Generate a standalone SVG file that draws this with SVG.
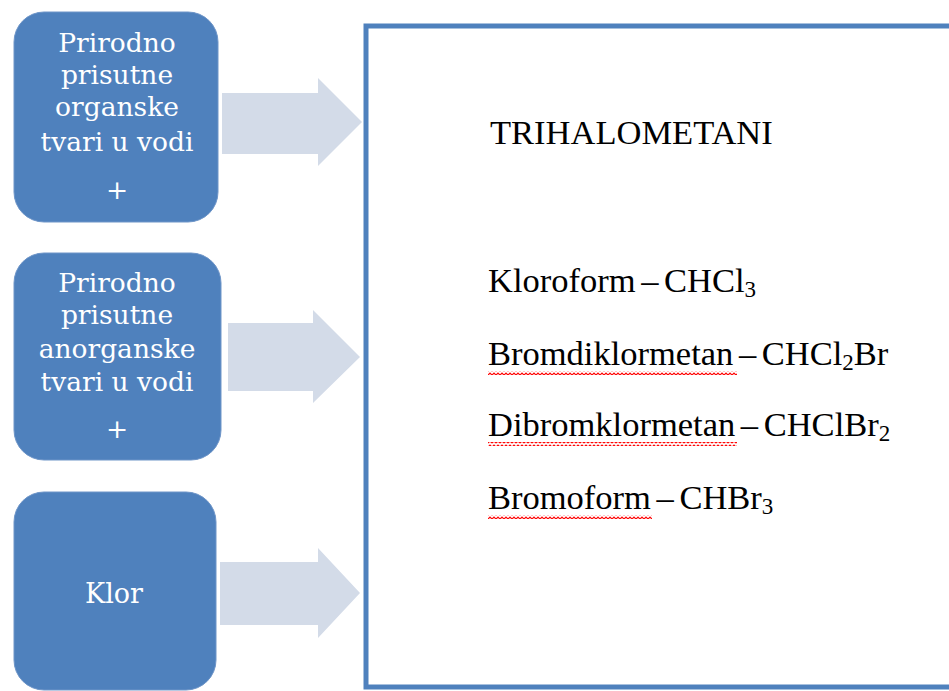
<svg xmlns="http://www.w3.org/2000/svg" width="949" height="691" viewBox="0 0 949 691">
<style>
.box{fill:#4F81BD;stroke:#6E95C8;stroke-width:1}
.bt{font-family:"DejaVu Serif","Liberation Serif",serif;font-size:26.5px;fill:#FFFFFF;text-anchor:middle}
.arr{fill:#D3DBE8}
.rt{font-family:"Liberation Serif","Times New Roman",serif;font-size:34.5px;fill:#000000;word-spacing:-3px}
.sub{font-size:23px}
</style>
<defs>
<pattern id="sq" x="0" y="0" width="4" height="4" patternUnits="userSpaceOnUse">
<path d="M0,3 L2,1 L4,3" fill="none" stroke="#FF0000" stroke-width="1.2"/>
</pattern>
</defs>
<rect x="0" y="0" width="949" height="691" fill="#FFFFFF"/>
<g id="connectors">
<path class="arr" d="M222,93 H318 V78 L362,122 L318,166 V154 H222 Z"/>
<path class="arr" d="M228,323 H313 V310 L360,357 L313,403 V391 H228 Z"/>
<path class="arr" d="M220,562 H318 V548 L360,593 L318,638 V625 H220 Z"/>
</g>
<g id="node1">
<rect class="box" x="14" y="12" width="204" height="210" rx="30" ry="30"/>
<text class="bt" x="117" y="52">Prirodno</text>
<text class="bt" x="117" y="84">prisutne</text>
<text class="bt" x="117" y="116">organske</text>
<text class="bt" x="117" y="151">tvari u vodi</text>
<text class="bt" x="117" y="199">+</text>
</g>
<g id="node2">
<rect class="box" x="14" y="253" width="207" height="207" rx="30" ry="30"/>
<text class="bt" x="117" y="292">Prirodno</text>
<text class="bt" x="117" y="324">prisutne</text>
<text class="bt" x="117" y="358">anorganske</text>
<text class="bt" x="117" y="391">tvari u vodi</text>
<text class="bt" x="117" y="438">+</text>
</g>
<g id="node3">
<rect class="box" x="14" y="492" width="202" height="198" rx="30" ry="30"/>
<text class="bt" x="114" y="603" style="font-size:27px">Klor</text>
</g>
<g id="result">
<rect x="366" y="26" width="600" height="661" fill="#FFFFFF" stroke="#4F81BD" stroke-width="5"/>
<text class="rt" x="490" y="144">TRIHALOMETANI</text>
<text class="rt" x="488" y="292">Kloroform – CHCl<tspan class="sub" dy="5">3</tspan></text>
<text class="rt" x="488" y="365">Bromdiklormetan – CHCl<tspan class="sub" dy="5">2</tspan><tspan dy="-5">Br</tspan></text>
<text class="rt" x="488" y="436">Dibromklormetan – CHClBr<tspan class="sub" dy="5">2</tspan></text>
<text class="rt" x="488" y="509">Bromoform – CHBr<tspan class="sub" dy="5">3</tspan></text>
<rect x="488" y="371" width="249" height="4" fill="url(#sq)"/>
<rect x="488" y="442" width="249" height="4" fill="url(#sq)"/>
<rect x="488" y="515" width="164" height="4" fill="url(#sq)"/>
</g>
</svg>
